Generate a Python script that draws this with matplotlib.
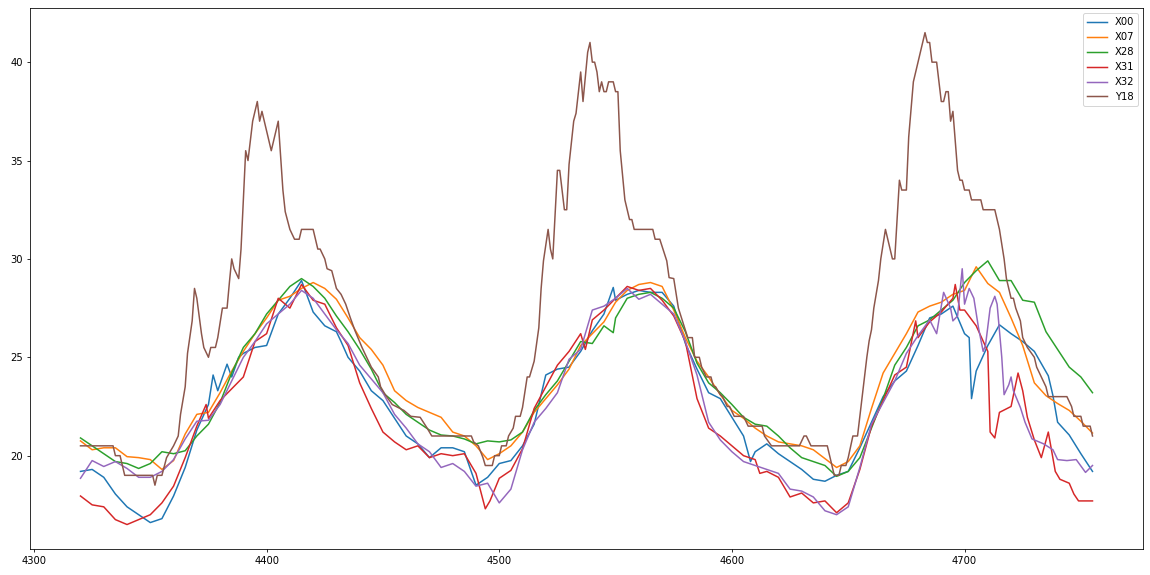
import matplotlib
matplotlib.use("Agg")
import matplotlib.pyplot as plt

# values, one x list per series (knots of the line)
x00_x = [4320, 4325, 4330, 4335, 4340, 4345, 4350, 4355, 4360, 4365, 4370, 4375, 4377, 4379,
         4383, 4385, 4388, 4390, 4395, 4400, 4405, 4410, 4415, 4420, 4425, 4430, 4432, 4435,
         4440, 4445, 4450, 4455, 4460, 4465, 4470, 4475, 4480, 4485, 4490, 4495, 4500, 4505,
         4510, 4515, 4520, 4525, 4530, 4535, 4540, 4545, 4549, 4550, 4555, 4560, 4565, 4570,
         4575, 4580, 4585, 4590, 4595, 4600, 4605, 4608, 4610, 4615, 4620, 4625, 4630, 4635,
         4640, 4645, 4650, 4655, 4660, 4665, 4670, 4675, 4680, 4685, 4690, 4695, 4700, 4702,
         4703, 4705, 4710, 4715, 4720, 4725, 4730, 4736, 4738, 4740, 4745, 4750, 4755]
x00_y = [19.2, 19.3, 18.9, 18.05, 17.4, 17.0, 16.6, 16.8, 17.95, 19.4, 21.3, 22.6, 24.1, 23.3,
         24.65, 24.0, 25.0, 25.2, 25.5, 25.6, 27.2, 28.0, 28.9, 27.3, 26.6, 26.3, 25.8, 25.0,
         24.3, 23.3, 22.8, 21.9, 21.0, 20.6, 19.9, 20.4, 20.4, 20.2, 18.5, 18.9, 19.6, 19.75,
         20.5, 21.6, 24.1, 24.4, 24.5, 25.3, 26.35, 27.2, 28.55, 27.9, 28.2, 28.4, 28.3, 28.3,
         27.6, 25.7, 24.4, 23.2, 22.9, 21.95, 21.0, 19.7, 20.2, 20.6, 20.1, 19.7, 19.3, 18.8,
         18.7, 19.0, 19.2, 20.4, 21.7, 23.0, 23.8, 24.3, 25.6, 27.0, 27.2, 27.6, 26.2, 26.0,
         22.9, 24.3, 25.6, 26.65, 26.2, 25.8, 25.3, 24.06, 23.05, 21.7, 21.05, 20.1, 19.2]

x07_x = list(range(4320, 4756, 5))
x07_y = [20.75, 20.3, 20.4, 20.4, 19.95, 19.9, 19.8, 19.3, 19.75, 21.1, 22.1, 22.2, 23.2, 24.3,
         25.3, 26.2, 27.0, 27.9, 28.1, 28.5, 28.8, 28.5, 27.95, 27.0, 26.0, 25.4, 24.6, 23.3,
         22.8, 22.45, 22.2, 21.95, 21.2, 21.0, 20.5, 19.8, 20.1, 20.5, 21.2, 22.2, 22.9, 23.6,
         24.4, 25.6, 26.2, 26.8, 27.8, 28.4, 28.7, 28.8, 28.6, 27.4, 26.0, 24.8, 24.0, 23.1,
         22.3, 21.9, 21.4, 21.0, 20.7, 20.6, 20.5, 20.3, 19.85, 19.4, 19.7, 20.5, 22.4, 24.2,
         25.2, 26.2, 27.3, 27.6, 27.8, 28.2, 28.4, 29.6, 28.75, 28.3, 27.0, 25.6, 23.7, 23.05,
         22.65, 22.3, 21.75, 21.15]

x28_x = list(range(4320, 4546, 5)) + [4549] + list(range(4550, 4756, 5))
x28_y = [20.9, 20.5, 20.1, 19.7, 19.6, 19.35, 19.6, 20.2, 20.1, 20.25, 21.0, 21.6, 22.7, 24.2,
         25.5, 26.2, 27.2, 27.9, 28.6, 29.0, 28.6, 28.0, 27.1, 26.3, 25.4, 24.4, 23.2, 22.7,
         22.1, 21.7, 21.3, 21.05, 21.0, 20.85, 20.6, 20.75, 20.7, 20.8, 21.2, 22.3, 23.1, 23.8,
         24.8, 25.8, 25.7, 26.6, 26.25, 27.0, 28.0, 28.2, 28.3, 28.0, 27.5, 26.3, 24.7, 23.7,
         23.2, 22.6, 21.95, 21.6, 21.5, 21.0, 20.4, 19.9, 19.7, 19.5, 18.95, 19.2, 19.9, 21.4,
         22.9, 24.6, 25.5, 26.6, 26.9, 27.4, 27.9, 28.8, 29.4, 29.9, 28.9, 28.9, 27.9, 27.8,
         26.3, 25.4, 24.5, 24.0, 23.2]

x31_x = [4320, 4325, 4330, 4335, 4340, 4345, 4350, 4355, 4360, 4365, 4370, 4374, 4375, 4380,
         4385, 4390, 4395, 4400, 4405, 4410, 4415, 4420, 4425, 4430, 4435, 4440, 4445, 4450,
         4455, 4460, 4465, 4470, 4475, 4480, 4485, 4490, 4494, 4496, 4500, 4505, 4510, 4515,
         4520, 4525, 4530, 4535, 4537, 4540, 4545, 4550, 4555, 4560, 4565, 4570, 4575, 4580,
         4585, 4590, 4595, 4600, 4605, 4610, 4612, 4615, 4620, 4625, 4630, 4635, 4640, 4645,
         4650, 4655, 4660, 4665, 4670, 4675, 4679, 4680, 4685, 4690, 4695, 4696, 4698, 4700,
         4705, 4710, 4711, 4713, 4715, 4720, 4723, 4725, 4727, 4730, 4733, 4736, 4739, 4741,
         4745, 4747, 4749, 4755]
x31_y = [17.95, 17.5, 17.4, 16.75, 16.5, 16.75, 17.0, 17.6, 18.45, 19.9, 21.5, 22.6, 21.9, 22.8,
         23.4, 24.0, 25.8, 26.2, 28.0, 27.5, 28.7, 27.9, 27.7, 26.5, 25.6, 23.7, 22.4, 21.2,
         20.7, 20.3, 20.5, 19.9, 20.1, 20.0, 20.1, 19.1, 17.3, 17.7, 18.85, 19.25, 20.35, 22.4,
         23.5, 24.6, 25.3, 26.2, 25.4, 26.9, 27.4, 28.0, 28.6, 28.4, 28.5, 27.9, 27.1, 25.8,
         22.9, 21.4, 21.0, 20.5, 20.0, 19.8, 19.1, 19.2, 18.9, 17.9, 18.1, 17.6, 17.7, 17.1,
         17.6, 19.3, 21.5, 22.8, 24.1, 24.5, 26.85, 26.0, 26.8, 27.3, 28.0, 28.7, 27.4, 27.4,
         26.6, 25.3, 21.2, 20.9, 22.2, 22.5, 24.2, 23.3, 21.95, 20.8, 19.9, 21.2, 19.2, 18.8,
         18.6, 18.05, 17.7, 17.7]

x32_x = [4320, 4325, 4330, 4335, 4340, 4345, 4350, 4355, 4360, 4365, 4370, 4375, 4380, 4385,
         4390, 4395, 4400, 4405, 4410, 4415, 4420, 4425, 4430, 4435, 4440, 4445, 4450, 4455,
         4460, 4465, 4470, 4475, 4480, 4485, 4490, 4495, 4500, 4505, 4510, 4515, 4520, 4525,
         4530, 4535, 4540, 4545, 4550, 4555, 4560, 4565, 4570, 4575, 4580, 4585, 4590, 4595,
         4600, 4605, 4610, 4615, 4620, 4625, 4630, 4635, 4640, 4645, 4650, 4655, 4660, 4665,
         4670, 4675, 4680, 4685, 4688, 4691, 4694, 4695, 4697, 4699, 4700, 4702, 4704, 4706,
         4708, 4709, 4711, 4713, 4714, 4716, 4717, 4719, 4720, 4721, 4724, 4726, 4729, 4734,
         4738, 4740, 4744, 4748, 4752, 4755]
x32_y = [18.85, 19.75, 19.45, 19.7, 19.35, 18.9, 18.9, 19.2, 19.8, 20.85, 21.75, 21.8, 22.6, 23.8,
         25.0, 25.8, 26.7, 27.2, 27.7, 28.4, 28.0, 27.2, 26.4, 25.7, 24.6, 23.9, 23.2, 22.1,
         21.4, 20.6, 20.2, 19.4, 19.6, 19.2, 18.45, 18.6, 17.6, 18.3, 20.3, 21.7, 22.4, 23.2,
         24.9, 25.4, 27.4, 27.6, 28.0, 28.5, 27.95, 28.2, 27.7, 27.2, 25.8, 24.1, 21.7, 20.8,
         20.2, 19.7, 19.5, 19.3, 19.1, 18.3, 18.2, 17.9, 17.2, 17.0, 17.4, 19.4, 21.6, 22.7,
         23.8, 25.2, 26.1, 26.9, 26.2, 28.3, 27.5, 26.85, 27.1, 29.5, 27.7, 28.5, 28.0, 26.5,
         25.3, 25.6, 27.5, 28.1, 27.7, 25.0, 23.1, 23.6, 24.0, 23.3, 22.45, 21.7, 20.85, 20.6,
         20.3, 19.8, 19.75, 19.8, 19.15, 19.5]

y18_x = [4320, 4334, 4335, 4337, 4339, 4351, 4352, 4353, 4355, 4357, 4359, 4360, 4362, 4363,
         4365, 4366, 4368, 4369, 4370, 4372, 4373, 4375, 4376, 4378, 4379, 4381, 4383, 4384,
         4385, 4386, 4388, 4389, 4391, 4392, 4394, 4396, 4397, 4398, 4402, 4405, 4407, 4408,
         4410, 4412, 4414, 4415, 4420, 4422, 4423, 4425, 4426, 4428, 4430, 4432, 4434, 4436,
         4438, 4441, 4443, 4445, 4448, 4449, 4451, 4454, 4459, 4462, 4466, 4469, 4471, 4488,
         4489, 4491, 4493, 4494, 4497, 4498, 4500, 4501, 4503, 4504, 4506, 4507, 4509, 4510,
         4512, 4513, 4515, 4517, 4518, 4519, 4521, 4522, 4523, 4525, 4526, 4528, 4529, 4530,
         4532, 4533, 4535, 4536, 4538, 4539, 4540, 4541, 4542, 4543, 4544, 4545, 4546, 4547,
         4549, 4550, 4551, 4552, 4554, 4556, 4557, 4558, 4566, 4567, 4569, 4572, 4573, 4575,
         4577, 4581, 4583, 4584, 4586, 4587, 4589, 4591, 4592, 4593, 4595, 4596, 4598, 4599,
         4601, 4605, 4607, 4613, 4614, 4617, 4629, 4631, 4632, 4634, 4641, 4643, 4644, 4646,
         4647, 4649, 4650, 4652, 4654, 4655, 4656, 4657, 4658, 4659, 4660, 4661, 4663, 4664,
         4666, 4669, 4670, 4672, 4673, 4675, 4676, 4678, 4680, 4683, 4684, 4685, 4686, 4688,
         4690, 4691, 4692, 4693, 4694, 4695, 4697, 4698, 4699, 4700, 4702, 4703, 4707, 4708,
         4713, 4715, 4717, 4718, 4720, 4721, 4722, 4724, 4725, 4727, 4730, 4731, 4733, 4735,
         4736, 4744, 4746, 4747, 4750, 4751, 4754, 4755]
y18_y = [20.5, 20.5, 20.0, 20.0, 19.0, 19.0, 18.5, 19.0, 19.0, 19.9, 20.3, 20.5, 21.0, 22.1,
         23.5, 25.2, 26.85, 28.5, 28.0, 26.2, 25.5, 25.0, 25.5, 25.5, 26.0, 27.5, 27.5, 28.8,
         30.0, 29.5, 29.0, 30.5, 35.5, 35.0, 37.0, 38.0, 37.0, 37.5, 35.5, 37.0, 33.5, 32.4,
         31.5, 31.0, 31.0, 31.5, 31.5, 30.5, 30.5, 30.0, 29.5, 29.4, 28.5, 28.2, 27.7, 27.0,
         26.35, 25.5, 25.0, 24.5, 24.0, 23.5, 23.1, 22.6, 22.3, 22.0, 21.95, 21.4, 21.0, 21.0,
         20.7, 20.5, 19.9, 19.5, 19.5, 20.0, 20.0, 20.5, 20.5, 21.0, 21.4, 22.0, 22.0, 22.45,
         24.0, 24.0, 24.8, 26.5, 28.5, 29.9, 31.5, 30.5, 30.0, 34.5, 34.5, 32.5, 32.5, 34.8,
         37.0, 37.4, 39.5, 38.0, 40.5, 41.0, 40.0, 40.0, 39.5, 38.5, 39.0, 38.5, 38.5, 39.0,
         39.0, 38.5, 38.5, 35.5, 33.0, 32.0, 32.0, 31.5, 31.5, 31.0, 31.0, 29.9, 29.05, 29.0,
         27.5, 26.0, 26.0, 25.0, 25.0, 24.5, 24.0, 24.0, 23.55, 23.5, 23.1, 23.0, 22.5, 22.5,
         22.0, 22.0, 21.5, 21.5, 21.0, 20.5, 20.5, 21.0, 21.0, 20.5, 20.5, 19.5, 19.0, 19.0,
         19.5, 19.5, 19.9, 21.0, 21.0, 22.0, 23.0, 24.0, 25.0, 25.84, 26.4, 27.5, 28.9, 30.0,
         31.5, 30.0, 30.0, 34.0, 33.5, 33.5, 36.2, 39.0, 40.0, 41.5, 41.0, 41.0, 40.0, 40.0,
         38.0, 38.0, 38.5, 38.5, 37.0, 37.5, 34.5, 34.0, 34.0, 33.5, 33.5, 33.0, 33.0, 32.5,
         32.5, 31.5, 30.0, 29.0, 28.0, 28.0, 27.5, 26.85, 26.0, 25.5, 25.0, 24.5, 24.0, 23.5,
         23.0, 23.0, 22.5, 22.0, 22.0, 21.5, 21.5, 21.0]

fig = plt.figure(figsize=(16, 8), dpi=71.875)
ax = fig.add_axes([0.026, 0.045, 0.968, 0.941])

ax.plot(x00_x, x00_y, label="X00")
ax.plot(x07_x, x07_y, label="X07")
ax.plot(x28_x, x28_y, label="X28")
ax.plot(x31_x, x31_y, label="X31")
ax.plot(x32_x, x32_y, label="X32")
ax.plot(y18_x, y18_y, label="Y18")

ax.set_xticks([4300, 4400, 4500, 4600, 4700])
ax.set_yticks([20, 25, 30, 35, 40])
ax.legend(loc="upper right")

fig.savefig("out.png", dpi=71.875)
